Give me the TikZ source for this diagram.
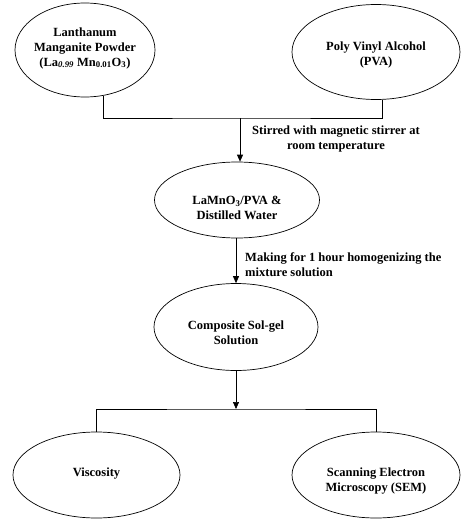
\documentclass[tikz,border=0pt]{standalone}
\usepackage{fontspec}
\setmainfont{Liberation Serif}
\usetikzlibrary{shapes.geometric,arrows.meta}
\begin{document}
\begin{tikzpicture}[x=1pt,y=-1pt,
  oval/.style={draw, ellipse, inner sep=0pt, line width=0.7pt},
  lbl/.style={font=\fontsize{12.5}{15}\selectfont\bfseries, align=center, inner sep=0pt},
  conn/.style={line width=0.7pt},
  arr/.style={conn, -{Triangle[length=7pt,width=6pt]}}]
\useasboundingbox (0,0) rectangle (461,519);
% ellipses
\node[oval, minimum width=140pt, minimum height=94pt] (e1) at (85,50) {};
\node[oval, minimum width=168pt, minimum height=95pt] (e2) at (376,52) {};
\node[oval, minimum width=165pt, minimum height=76pt] (e3) at (237,200) {};
\node[oval, minimum width=164pt, minimum height=87pt] (e4) at (236,327) {};
\node[oval, minimum width=167pt, minimum height=86pt] (e5) at (96.5,475) {};
\node[oval, minimum width=168pt, minimum height=86pt] (e6) at (376,475) {};
% texts
\node[lbl] (t1) at (85,48) {Lanthanum\\Manganite Powder\\(La\textsubscript{\textit{0.99}} Mn\textsubscript{0.01}O\textsubscript{3})};
\node[lbl] (t2) at (376,55) {Poly Vinyl Alcohol\\(PVA)};
\node[lbl] (t3) at (237,208) {LaMnO\textsubscript{3}/PVA \&\\Distilled Water};
\node[lbl] (t4) at (236,333) {Composite Sol-gel\\Solution};
\node[lbl] (t5) at (96.5,474) {Viscosity};
\node[lbl] (t6) at (376,481) {Scanning Electron\\Microscopy (SEM)};
% step labels
\node[lbl] (s1) at (336,139) {Stirred with magnetic stirrer at\\room temperature};
\node[lbl, anchor=west, align=left] (s2) at (245,265) {Making for 1 hour homogenizing the\\mixture solution};
% connectors
\coordinate (j1) at (240,118);
\coordinate (j2) at (236,409);
\draw[conn] (e1.-68) |- (j1) -| (e2.-83);
\draw[arr] (j1) -- (j1 |- e3.north);
\draw[arr] (e4.north |- e3.south) -- (e4.north);
\draw[arr] (e4.south) -- (j2);
\draw[conn] (e5.north) |- (j2) -| (e6.north);
\end{tikzpicture}
\end{document}
